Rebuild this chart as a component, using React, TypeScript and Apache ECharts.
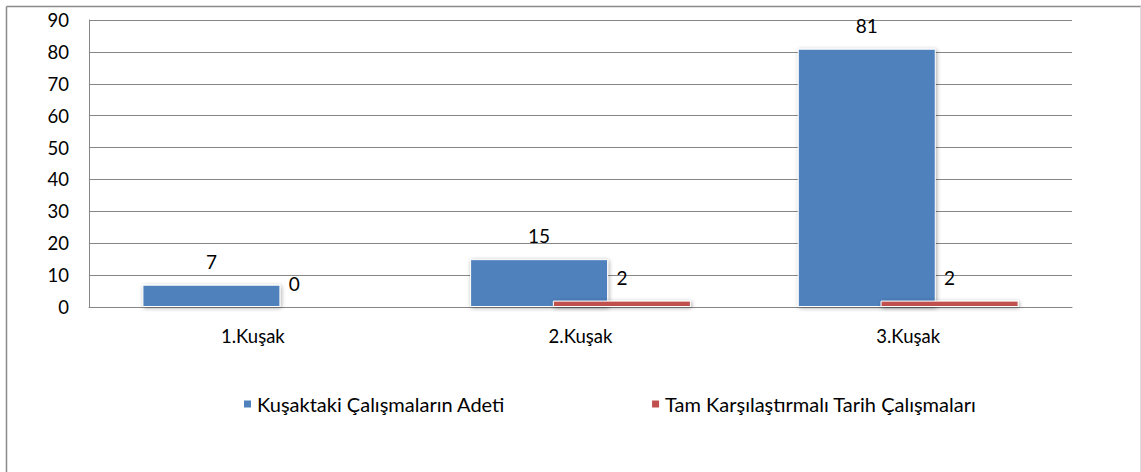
import React, { useEffect, useRef } from "react";
import * as echarts from "echarts";

const categories = ["1.Kuşak", "2.Kuşak", "3.Kuşak"];
const seriesNames = ["Kuşaktaki Çalışmaların Adeti", "Tam Karşılaştırmalı Tarih Çalışmaları"];
const countValues = [7, 15, 81];
const fullCompareValues = [0, 2, 2];
const yMin = 0;
const yMax = 90;
const yInterval = 10;

const FONT = "Lato, 'Open Sans', sans-serif";

export default function App() {
  const ref = useRef<HTMLDivElement>(null);
  useEffect(() => {
    if (!ref.current) return;
    const chart = echarts.init(ref.current, null, { renderer: "svg" });
    const barStyle = (color: string) => ({
      color,
      borderColor: "#ffffff",
      borderWidth: 1,
      shadowBlur: 4,
      shadowColor: "rgba(0,0,0,0.35)",
      shadowOffsetX: 1,
      shadowOffsetY: 1,
    });
    const labelStyle = {
      show: true,
      position: "top",
      distance: 14,
      color: "#000",
      fontSize: 19,
      fontFamily: FONT,
    };
    chart.setOption({
      animation: false,
      backgroundColor: "#ffffff",
      textStyle: { fontFamily: FONT },
      grid: { left: 89, right: 69, top: 20, bottom: 165, containLabel: false },
      legend: {
        left: 237,
        top: 389,
        icon: "rect",
        itemWidth: 9,
        itemHeight: 9,
        itemGap: 145,
        textStyle: { color: "#000", fontSize: 20, fontFamily: FONT },
        data: seriesNames,
      },
      xAxis: {
        type: "category",
        data: categories,
        axisLine: { show: true, lineStyle: { color: "#868686", width: 1 } },
        axisTick: { show: false },
        axisLabel: { color: "#000", fontSize: 18.5, fontFamily: FONT, margin: 19 },
      },
      yAxis: {
        type: "value",
        min: yMin,
        max: yMax,
        interval: yInterval,
        axisLine: { show: true, lineStyle: { color: "#868686", width: 1 } },
        axisTick: { show: false },
        axisLabel: { color: "#000", fontSize: 18.5, fontFamily: FONT, margin: 20 },
        splitLine: { show: true, lineStyle: { color: "#868686", width: 1 } },
      },
      series: [
        {
          name: seriesNames[0],
          type: "bar",
          data: countValues,
          barWidth: 138,
          barGap: "-40%",
          itemStyle: barStyle("#4F81BD"),
          label: labelStyle,
        },
        {
          name: seriesNames[1],
          type: "bar",
          data: fullCompareValues,
          barWidth: 138,
          barGap: "-40%",
          itemStyle: barStyle("#C0504D"),
          label: labelStyle,
        },
      ],
      graphic: [
        { type: "line", shape: { x1: 6.5, y1: 6.5, x2: 6.5, y2: 472 }, style: { stroke: "#8a8a8a", lineWidth: 1.5 } },
        { type: "line", shape: { x1: 6.5, y1: 6.5, x2: 1141, y2: 6.5 }, style: { stroke: "#8a8a8a", lineWidth: 1.5 } },
        { type: "line", shape: { x1: 1140.5, y1: 6.5, x2: 1140.5, y2: 472 }, style: { stroke: "#dddddd", lineWidth: 1 } },
      ],
    });
    return () => chart.dispose();
  }, []);
  return (
    <div
      ref={ref}
      style={{ position: "fixed", left: 0, top: 0, width: 1141, height: 472 }}
    />
  );
}
